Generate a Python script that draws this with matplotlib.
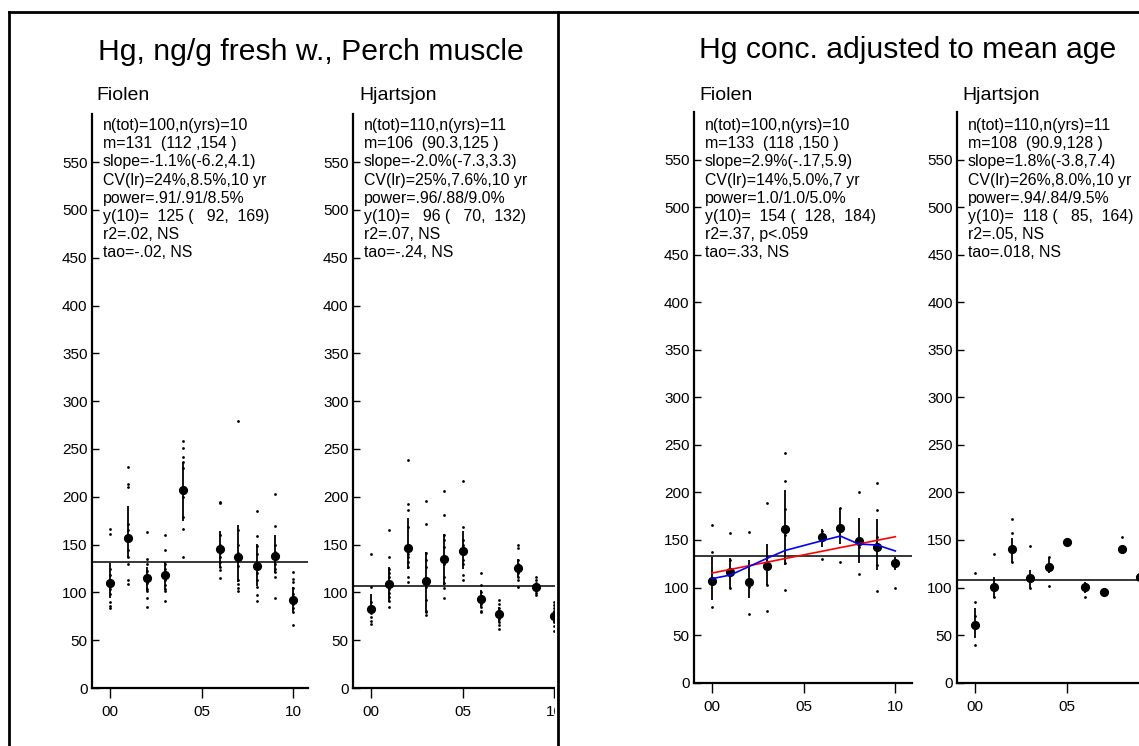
import numpy as np
import matplotlib
matplotlib.use('Agg')
import matplotlib.pyplot as plt
from matplotlib.lines import Line2D
from matplotlib.patches import Rectangle

plt.rcParams['font.family'] = ['Liberation Sans', 'DejaVu Sans']

W, H = 1139, 746

# ---- data ----
# raw Hg, Fiolen
years1 = [0, 1, 2, 3, 4, 6, 7, 8, 9, 10]
mean1 = [110, 157, 115, 118, 207, 145, 137, 128, 138, 92]
lo1 = [94, 136, 101, 102, 175, 126, 111, 107, 120, 79]
hi1 = [131, 190, 127, 132, 236, 164, 170, 151, 160, 106]
pts1 = [[166, 161, 125, 118, 112, 104, 98, 90, 86, 84],
        [231, 213, 210, 172, 165, 144, 137, 130, 113, 109],
        [163, 135, 130, 122, 116, 110, 104, 101, 94, 85],
        [160, 144, 130, 125, 120, 113, 108, 104, 101, 91],
        [258, 251, 242, 236, 230, 205, 200, 179, 166, 137],
        [195, 193, 160, 150, 141, 137, 132, 127, 123, 115],
        [279, 165, 150, 141, 134, 128, 113, 109, 105, 101],
        [185, 159, 149, 140, 128, 120, 113, 106, 97, 91],
        [203, 169, 150, 142, 136, 130, 125, 121, 116, 94],
        [121, 114, 111, 105, 98, 92, 88, 84, 80, 66]]
overall1 = 131.5

# raw Hg, Hjartsjon
years2 = [0, 1, 2, 3, 4, 5, 6, 7, 8, 9, 10]
mean2 = [83, 108.5, 146, 112, 135, 143, 93, 77, 126, 106, 75]
lo2 = [78, 90, 125, 78, 108, 124, 85, 69, 116, 102, 68]
hi2 = [98, 127, 178, 142, 161, 164, 102, 85, 135, 109, 81]
pts2 = [[140, 106, 90, 86, 83, 80, 78, 74, 70, 67],
        [165, 137, 125, 120, 116, 104, 99, 95, 91, 85],
        [239, 192, 186, 168, 140, 137, 132, 127, 116, 111],
        [196, 172, 141, 134, 127, 106, 92, 81, 79, 76],
        [206, 181, 160, 155, 148, 130, 116, 110, 105, 94],
        [217, 168, 155, 150, 147, 140, 134, 130, 118, 113],
        [120, 108, 100, 96, 93, 90, 88, 85, 81, 79],
        [92, 88, 84, 80, 77, 75, 72, 69, 66, 62],
        [150, 146, 134, 130, 127, 124, 120, 116, 113, 106],
        [116, 113, 110, 108, 106, 105, 103, 101, 99, 97],
        [90, 87, 84, 81, 78, 75, 72, 69, 65, 60]]
overall2 = 106.7

# age adjusted, Fiolen
years3 = [0, 1, 2, 3, 4, 6, 7, 8, 9, 10]
mean3 = [107, 116, 106, 123, 162, 153, 163, 149, 143, 126]
lo3 = [87, 100, 89, 103, 124, 143, 146, 126, 118, 118]
hi3 = [132, 131, 129, 146, 203, 162, 184, 173, 172, 132]
pts3 = [[166, 137, 80], [157, 129, 100], [158, 101, 72], [189, 132, 103, 75],
        [241, 212, 183, 155, 126, 97], [159, 130], [184, 127], [200, 143, 114],
        [210, 181, 153, 124, 96], [100]]
smooth3 = [109.3, 113.1, 121.9, 130.7, 139, 149.2, 154.1, 145.7, 144.7, 138.4]
reg_years3 = [0, 10]
reg3 = [115.2, 153.4]
overall3 = 133.1

# age adjusted, Hjartsjon
years4 = [0, 1, 2, 3, 4, 5, 6, 7, 8, 9]
mean4 = [60.5, 101, 140.5, 109.5, 121.5, 147.5, 100.5, 95, 141, 111]
lo4 = [46.5, 88.6, 127, 99, 115.6, 147.5, 94, 95, 137.7, 111]
hi4 = [78, 111.4, 151.7, 118.4, 132.4, 147.5, 106, 95, 144, 111]
pts4 = [[115, 85, 70, 40], [135, 90], [172, 157, 127], [144, 99], [132, 102],
        [], [90], [], [153], []]
overall4 = 108

stats1 = ["n(tot)=100,n(yrs)=10", "m=131  (112 ,154 )", "slope=-1.1%(-6.2,4.1)",
          "CV(lr)=24%,8.5%,10 yr", "power=.91/.91/8.5%", "y(10)=  125 (   92,  169)",
          "r2=.02, NS", "tao=-.02, NS"]
stats2 = ["n(tot)=110,n(yrs)=11", "m=106  (90.3,125 )", "slope=-2.0%(-7.3,3.3)",
          "CV(lr)=25%,7.6%,10 yr", "power=.96/.88/9.0%", "y(10)=   96 (   70,  132)",
          "r2=.07, NS", "tao=-.24, NS"]
stats3 = ["n(tot)=100,n(yrs)=10", "m=133  (118 ,150 )", "slope=2.9%(-.17,5.9)",
          "CV(lr)=14%,5.0%,7 yr", "power=1.0/1.0/5.0%", "y(10)=  154 (  128,  184)",
          "r2=.37, p<.059", "tao=.33, NS"]
stats4 = ["n(tot)=110,n(yrs)=11", "m=108  (90.9,128 )", "slope=1.8%(-3.8,7.4)",
          "CV(lr)=26%,8.0%,10 yr", "power=.94/.84/9.5%", "y(10)=  118 (   85,  164)",
          "r2=.05, NS", "tao=.018, NS"]

yticks = list(range(0, 551, 50))
xticks = [0, 5, 10]
xticklabels = ['00', '05', '10']

fig = plt.figure(figsize=(W / 100, H / 100), dpi=100)


def ftext(x, y, s, **kw):
    return fig.text(x / W, 1 - y / H, s, **kw)


def panel(x0, x1, ybot, ytop, xmax, years, means, lo, hi, pts, overall, nticks=3):
    ax = fig.add_axes([x0 / W, 1 - ybot / H, (x1 - x0) / W, (ybot - ytop) / H])
    for yr, p in zip(years, pts):
        ax.plot([yr] * len(p), p, 'o', ms=2, color='k', mec='none', zorder=3)
    ax.vlines(years, lo, hi, color='k', lw=1.3, zorder=3)
    ax.plot(years, means, 'o', ms=5.6, color='k', mec='k', zorder=4)
    ax.axhline(overall, color='k', lw=1.1, zorder=2)
    ax.set_xlim(-1, xmax)
    ax.set_ylim(0, 600)
    ax.set_yticks(yticks)
    ax.set_xticks(xticks[:nticks])
    ax.set_xticklabels(xticklabels[:nticks])
    for s in ['top', 'right']:
        ax.spines[s].set_visible(False)
    for s in ['left', 'bottom']:
        ax.spines[s].set_linewidth(1.6)
    ax.tick_params(axis='y', direction='in', length=5, width=1, pad=3, labelsize=11)
    ax.tick_params(axis='x', direction='out', length=7.5, width=1, pad=5, labelsize=11)
    ax.patch.set_alpha(0)
    return ax


px_yr = 18.33
ax1 = panel(91.7, 91.7 + 11.8 * px_yr, 688, 114.4, 10.8, years1, mean1, lo1, hi1, pts1, overall1)
ax2 = panel(352.7, 352.7 + 11.8 * px_yr, 688, 114.4, 10.8, years2, mean2, lo2, hi2, pts2, overall2)
ax3 = panel(693.7, 693.7 + 11.9 * px_yr, 682.6, 112, 10.9, years3, mean3, lo3, hi3, pts3, overall3)
ax4 = panel(957, 957 + 11.9 * px_yr, 682.6, 112, 10.9, years4, mean4, lo4, hi4, pts4, overall4,
            nticks=2)

ax3.plot(reg_years3, reg3, color='red', lw=1.2, zorder=5)
ax3.plot(years3, smooth3, color='blue', lw=1.2, zorder=5)

# titles
ftext(311, 59.5, "Hg, ng/g fresh w., Perch muscle", ha='center', va='baseline', fontsize=21.7)
ftext(908, 58.5, "Hg conc. adjusted to mean age", ha='center', va='baseline', fontsize=21.7)
for x, name in [(96, "Fiolen"), (359, "Hjartsjon"), (699, "Fiolen"), (962.7, "Hjartsjon")]:
    ftext(x, 100, name, ha='left', va='baseline', fontsize=14)

for x, lines in [(102.7, stats1), (363.7, stats2), (705, stats3), (968, stats4)]:
    for i, s in enumerate(lines):
        ftext(x, 130 + i * 18.2, s, ha='left', va='baseline', fontsize=11.4)

# mask right part of the second panel, then frame lines
fig.add_artist(Rectangle((555 / W, 0), (640 - 555) / W, 1 - 14 / H,
                         transform=fig.transFigure, facecolor='white',
                         edgecolor='none', zorder=5))
frame_kw = dict(transform=fig.transFigure, color='k', lw=2, zorder=6)
fig.add_artist(Line2D([9 / W, 1], [1 - 12.3 / H, 1 - 12.3 / H], **frame_kw))
fig.add_artist(Line2D([9 / W, 9 / W], [0, 1 - 12.3 / H], **frame_kw))
fig.add_artist(Line2D([558 / W, 558 / W], [0, 1 - 12.3 / H], **frame_kw))

fig.savefig('out.png', dpi=100)
